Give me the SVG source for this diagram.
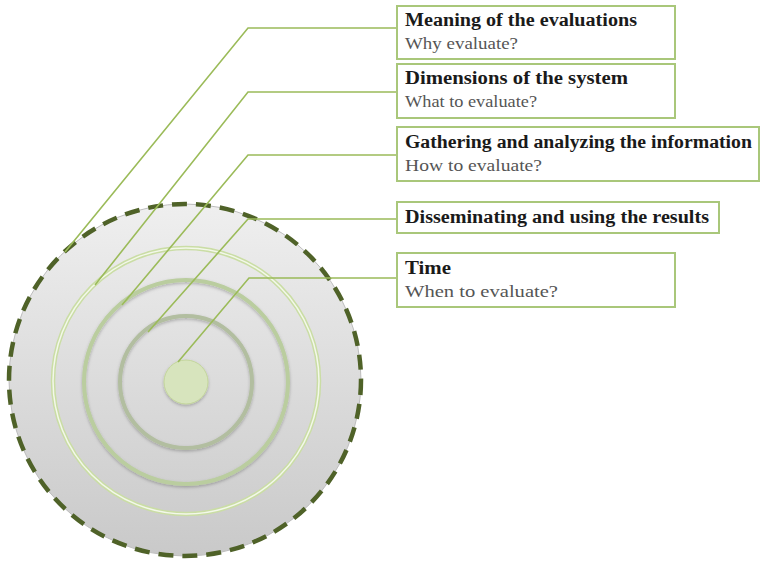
<svg xmlns="http://www.w3.org/2000/svg" width="760" height="563" viewBox="0 0 760 563">
<defs>
<linearGradient id="disc" x1="0" y1="0" x2="0" y2="1">
<stop offset="0" stop-color="#efefef"/>
<stop offset="1" stop-color="#c9c9c9"/>
</linearGradient>
<filter id="sh" x="-20%" y="-20%" width="140%" height="140%">
<feDropShadow dx="0" dy="1.5" stdDeviation="1.5" flood-color="#000" flood-opacity="0.25"/>
</filter>
<style>
.box{fill:#fff;stroke:#a9c77a;stroke-width:2}
.conn{fill:none;stroke:#9bbb59;stroke-width:1.6}
.t{font-family:"Liberation Serif","Times New Roman",serif;font-weight:bold;font-size:18.5px;fill:#1a1a1a}
.s{font-family:"Liberation Serif","Times New Roman",serif;font-size:17px;fill:#555}
</style>
</defs>
<rect width="760" height="563" fill="#fff"/>
<g id="target">
<circle cx="185" cy="380" r="176" fill="url(#disc)" stroke="#bdbdbd" stroke-width="1"/>
<circle cx="185" cy="380" r="176" fill="none" stroke="#4f6228" stroke-width="4.5" stroke-dasharray="15 9"/>
<circle cx="186" cy="381" r="133" fill="none" stroke="#cadda5" stroke-width="4.5"/>
<circle cx="186" cy="381" r="133" fill="none" stroke="#f3f8ea" stroke-width="1.5"/>
<circle cx="186" cy="382" r="102" fill="none" stroke="#bacd9f" stroke-width="4" filter="url(#sh)"/>
<circle cx="186" cy="382" r="66" fill="none" stroke="#b2bea0" stroke-width="4" filter="url(#sh)"/>
<circle cx="186" cy="382" r="22" fill="#d7e4bd" stroke="#c3d69b" stroke-width="1" filter="url(#sh)"/>
</g>
<g id="connectors">
<polyline class="conn" points="397,28 248,28 65,252"/>
<polyline class="conn" points="397,92 248,92 95,285"/>
<polyline class="conn" points="397,155 248,155 122,305"/>
<polyline class="conn" points="397,219 248,219 148,332"/>
<polyline class="conn" points="397,278 249,278 178,362"/>
</g>
<g id="n1">
<rect class="box" x="397" y="6" width="278" height="53"/>
<text class="t" x="405" y="26" textLength="232" lengthAdjust="spacingAndGlyphs">Meaning of  the evaluations</text>
<text class="s" x="405" y="49" textLength="113" lengthAdjust="spacingAndGlyphs">Why evaluate?</text>
</g>
<g id="n2">
<rect class="box" x="397" y="64" width="278" height="54"/>
<text class="t" x="405" y="84" textLength="223" lengthAdjust="spacingAndGlyphs">Dimensions of  the system</text>
<text class="s" x="405" y="107" textLength="132" lengthAdjust="spacingAndGlyphs">What to evaluate?</text>
</g>
<g id="n3">
<rect class="box" x="397" y="127" width="362" height="54"/>
<text class="t" x="405" y="148" textLength="347" lengthAdjust="spacingAndGlyphs">Gathering and analyzing the information</text>
<text class="s" x="405" y="171" textLength="137" lengthAdjust="spacingAndGlyphs">How to evaluate?</text>
</g>
<g id="n4">
<rect class="box" x="397" y="202" width="322" height="31"/>
<text class="t" x="405" y="223" textLength="304" lengthAdjust="spacingAndGlyphs">Disseminating and using the results</text>
</g>
<g id="n5">
<rect class="box" x="397" y="253" width="278" height="54"/>
<text class="t" x="405" y="274" textLength="46" lengthAdjust="spacingAndGlyphs">Time</text>
<text class="s" x="405" y="297" textLength="153" lengthAdjust="spacingAndGlyphs">When to evaluate?</text>
</g>
</svg>
